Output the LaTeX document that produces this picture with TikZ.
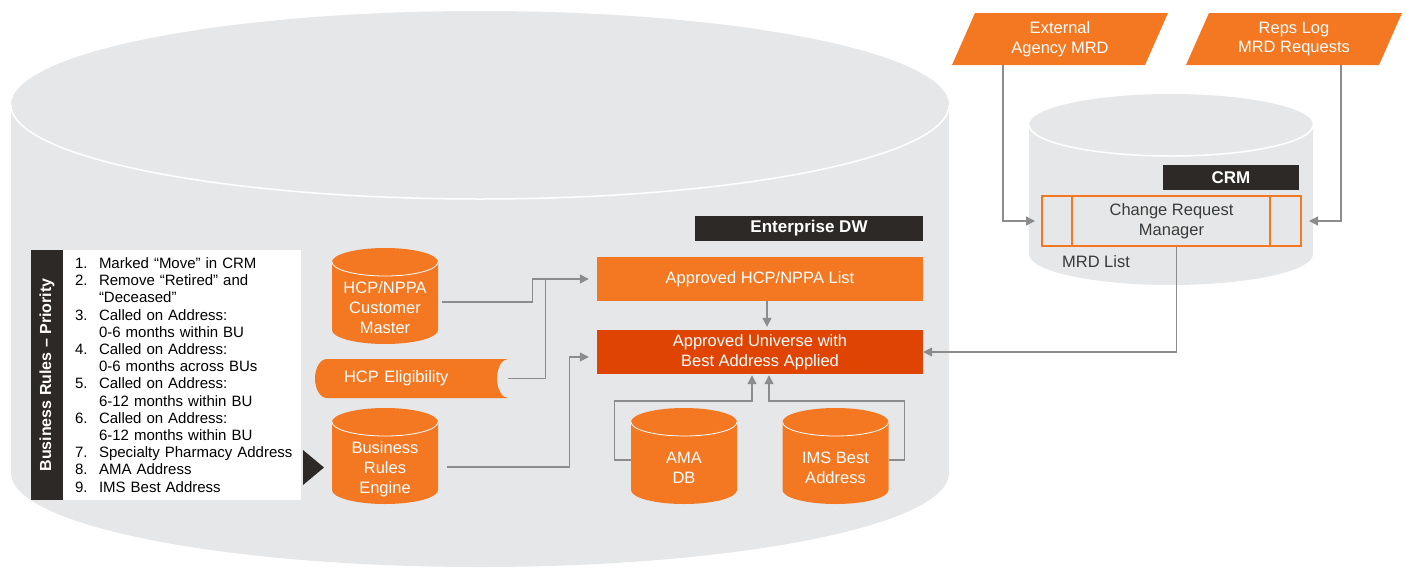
\documentclass[tikz,border=0pt]{standalone}
\usepackage{fontspec}
\setmainfont{Liberation Sans}
\usetikzlibrary{arrows.meta,positioning,calc}
\definecolor{dwgrey}{HTML}{E6E7E8}
\definecolor{hcporange}{HTML}{F47721}
\definecolor{univorange}{HTML}{E04403}
\definecolor{barblack}{HTML}{2D2926}
\definecolor{lineg}{HTML}{8C8C8C}
\definecolor{crmtext}{HTML}{3A3A3A}
\newcommand{\cyltext}[1]{\begin{tabular}{@{}c@{}}\rule{0pt}{40pt}#1\end{tabular}}
\newcommand{\ritem}[1]{\hspace*{12pt}\makebox[24pt][l]{#1}}
\newcommand{\rcont}{\hspace*{36pt}}

\begin{document}
\begin{tikzpicture}[x=1pt, y=-1pt,
    conn/.style={draw=lineg, line width=1.3pt, -{Triangle[length=9pt,width=9pt]}},
    feedline/.style={draw=lineg, line width=1.3pt},
    bodyfont/.style={font=\fontsize{16.5}{19.5}\selectfont},
    barlabel/.style={fill=barblack, text=white, inner sep=0pt,
      font=\fontsize{17}{20}\selectfont\bfseries},
    flatbox/.style={minimum width=326pt, minimum height=44pt, inner sep=0pt,
      text=white, align=center, bodyfont},
    dbcyl/.style={minimum width=106pt, minimum height=96pt, inner sep=0pt,
      text=white, font=\fontsize{16.5}{20}\selectfont,
      path picture={
        \fill[hcporange] ([yshift=-14pt]path picture bounding box.north west)
          arc[start angle=180, end angle=0, x radius=53pt, y radius=14pt]
          -- ([yshift=14pt]path picture bounding box.south east)
          arc[start angle=0, end angle=-180, x radius=53pt, y radius=14pt] -- cycle;
        \draw[white, line width=0.8pt] ([yshift=-14pt]path picture bounding box.north west)
          arc[start angle=180, end angle=360, x radius=53pt, y radius=14pt];
      }},
    slantbox/.style={minimum width=216pt, minimum height=52pt, inner sep=0pt,
      text=white, align=center, bodyfont,
      path picture={
        \fill[hcporange] (path picture bounding box.south west)
          -- ([xshift=23pt]path picture bounding box.north west)
          -- (path picture bounding box.north east)
          -- ([xshift=-23pt]path picture bounding box.south east) -- cycle;
      }},
  ]
  \useasboundingbox (0,0) rectangle (1406,568);

  % Enterprise DW drum
  \fill[dwgrey] (11,105) -- (11,473)
    arc[start angle=180, end angle=360, x radius=469pt, y radius=94pt]
    -- (949,105)
    arc[start angle=0, end angle=180, x radius=469pt, y radius=94pt] -- cycle;
  \draw[white, line width=1.5pt] (11,105)
    arc[start angle=180, end angle=360, x radius=469pt, y radius=94pt];

  % CRM drum
  \fill[dwgrey] (1029,125) -- (1029,254)
    arc[start angle=180, end angle=360, x radius=142pt, y radius=31pt]
    -- (1313,125)
    arc[start angle=0, end angle=180, x radius=142pt, y radius=31pt] -- cycle;
  \draw[white, line width=1.5pt] (1029,125)
    arc[start angle=180, end angle=360, x radius=142pt, y radius=31pt];

  % Business rules
  \node[barlabel, rotate=90, minimum width=250pt, minimum height=32pt,
        font=\fontsize{16}{18}\selectfont\bfseries] (rulesbar) at (47,375)
    {Business Rules – Priority};
  \node[fill=white, minimum width=238pt, minimum height=250pt, inner sep=0pt,
        text width=238pt, align=left,
        font=\fontsize{15}{17.2}\selectfont] (rules) at (182,375)
    {\ritem{1.}Marked “Move” in CRM\\
     \ritem{2.}Remove “Retired” and\\
     \rcont “Deceased”\\
     \ritem{3.}Called on Address:\\
     \rcont 0-6 months within BU\\
     \ritem{4.}Called on Address:\\
     \rcont 0-6 months across BUs\\
     \ritem{5.}Called on Address:\\
     \rcont 6-12 months within BU\\
     \ritem{6.}Called on Address:\\
     \rcont 6-12 months within BU\\
     \ritem{7.}Specialty Pharmacy Address\\
     \ritem{8.}AMA Address\\
     \ritem{9.}IMS Best Address};
  \fill[barblack] (303,450) -- (324,467.5) -- (303,485) -- cycle;

  % sources
  \node[dbcyl] (cm) at (385,296) {\cyltext{HCP/NPPA\\Customer\\Master}};
  \node[minimum width=193pt, minimum height=39pt, inner xsep=29pt, inner ysep=0pt,
        text width=135pt, align=left, text=white, bodyfont,
        path picture={
          \fill[hcporange] (path picture bounding box.north east)
            arc[start angle=90, end angle=270, x radius=11pt, y radius=19.5pt]
            -- ([xshift=12pt]path picture bounding box.south west)
            arc[start angle=270, end angle=90, x radius=12pt, y radius=19.5pt] -- cycle;
        }] (elig) at (411.5,378.5) {HCP Eligibility};
  \node[dbcyl] (bre) at (385,456) {\cyltext{Business\\Rules\\Engine}};

  % warehouse
  \node[barlabel, minimum width=228pt, minimum height=25pt] (dwbar) at (809,228.5)
    {Enterprise DW};
  \node[flatbox, fill=hcporange] (hcplist) at (760,279) {Approved HCP/NPPA List};
  \node[flatbox, fill=univorange] (universe) at (760,352)
    {Approved Universe with\\Best Address Applied};
  \node[dbcyl] (ama) at (684,456) {\cyltext{AMA\\DB}};
  \node[dbcyl] (ims) at (835.5,456) {\cyltext{IMS Best\\Address}};

  % CRM side
  \node[slantbox] (ext) at (1060,39) {External\\Agency MRD};
  \node[slantbox] (reps) at (1294,39) {Reps Log\\MRD Requests};
  \node[barlabel, minimum width=136pt, minimum height=25pt] (crmbar) at (1231,177.5)
    {CRM};
  \node[draw=hcporange, line width=2pt, minimum width=259pt, minimum height=50pt,
        inner sep=0pt, align=center, text=crmtext, bodyfont] (crmbox) at (1171.5,221)
    {Change Request\\Manager};
  \draw[hcporange, line width=2pt] ([xshift=31pt]crmbox.north west)
    -- ([xshift=31pt]crmbox.south west);
  \draw[hcporange, line width=2pt] ([xshift=-32pt]crmbox.north east)
    -- ([xshift=-32pt]crmbox.south east);
  \node[text=crmtext, bodyfont, inner sep=0pt] (mrdlist) at (1096,262) {MRD List};

  % connectors
  \draw[conn, shorten <=4pt, shorten >=8pt] ([yshift=-6pt]cm.east) -- ++(94,0)
    |- (hcplist.west);
  \draw[feedline] (elig.east) -- ++(37,0) |- ([xshift=-52pt]hcplist.west);
  \draw[conn, shorten <=9pt, shorten >=8pt] ([yshift=-11pt]bre.east) -- ++(131,0)
    |- ([yshift=-5pt]universe.west);
  \draw[conn, shorten >=3pt] ([xshift=7pt]hcplist.south) -- ([xshift=7pt]universe.north);
  \draw[conn, shorten >=1pt] ([yshift=-4pt]ama.west) -- ++(-16,0) -- ++(0,-59)
    -| ([xshift=-8pt]universe.south);
  \draw[conn, shorten >=1pt] ([yshift=-4pt]ims.east) -- ++(16,0) -- ++(0,-59)
    -| ([xshift=9pt]universe.south);
  \draw[conn, shorten >=6pt] ([xshift=-57pt]ext.south) |- (crmbox.west);
  \draw[conn, shorten >=7pt] ([xshift=47pt]reps.south) |- (crmbox.east);
  \draw[conn] ([xshift=5pt]crmbox.south) |- (universe.east);

\end{tikzpicture}
\end{document}
